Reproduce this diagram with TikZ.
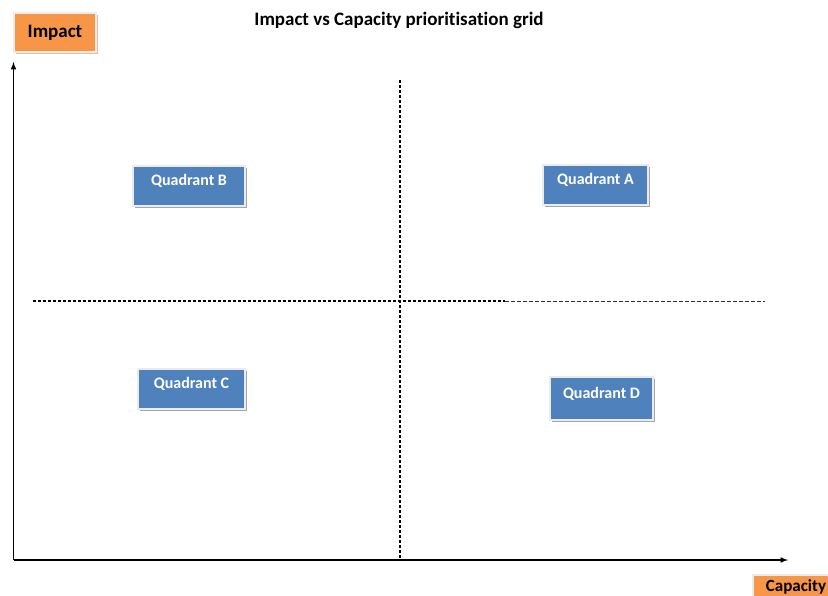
\documentclass[tikz,border=0pt]{standalone}
\usepackage{fontspec}
\setmainfont{Carlito}[Ligatures={NoCommon, NoDiscretionary}]
\usetikzlibrary{shadows}

\definecolor{quadblue}{HTML}{4F81BD}
\definecolor{axisorange}{HTML}{F79646}

\tikzset{
    quadbox/.style={fill=quadblue, draw=black!8, line width=1.5pt, text=white,
        font=\fontsize{16}{18}\selectfont\bfseries, inner sep=0pt,
        text height=12pt, text depth=13pt,
        drop shadow={shadow xshift=2pt, shadow yshift=-2pt, fill=black!35, opacity=1}},
    axisbox/.style={fill=axisorange, draw=black!8, line width=1.5pt,
        font=\fontsize{19}{21}\selectfont\bfseries, inner sep=0pt,
        drop shadow={shadow xshift=2pt, shadow yshift=-2pt, fill=brown!50, opacity=1}},
    divider/.style={line width=1.1pt, dash pattern=on 3pt off 2pt},
    thindivider/.style={line width=0.6pt, dash pattern=on 4pt off 2pt, black!80},
}

\begin{document}
\begin{tikzpicture}[x=1pt, y=-1pt]
    \useasboundingbox (0,0) rectangle (828,595);

    \node at (399, 20)    (title)  {\fontsize{19}{21}\selectfont\bfseries Impact vs Capacity prioritisation grid};
    \node[axisbox, minimum width=82, minimum height=39] at (55, 32.5)   (impact)  {Impact};
    \node[axisbox, font=\fontsize{17}{19}\selectfont\bfseries, minimum width=86, minimum height=30,
        text height=12pt, text depth=10pt] at (796, 590) (capacity)  {Capacity};

    \node[quadbox, minimum width=112, minimum height=40] at (189, 186)   (qB)  {Quadrant B};
    \node[quadbox, minimum width=105, minimum height=40] at (595.5, 185)   (qA)  {Quadrant A};
    \node[quadbox, minimum width=107, minimum height=40] at (191.5, 389)   (qC)  {Quadrant C};
    \node[quadbox, minimum width=103, minimum height=43] at (601.5, 398.5) (qD)  {Quadrant D};

    \coordinate (origin) at (13.5, 560);
    \coordinate (ytop)   at (13.5, 62);
    \coordinate (xend)   at (788, 560);
    \coordinate (vtop)   at (400, 80);
    \coordinate (vbot)   at (400, 560);
    \coordinate (hleft)  at (33, 301);
    \coordinate (hmid)   at (505, 301);
    \coordinate (hright) at (765, 301);

    \draw[line width=1.5pt, -latex] (origin) -- (ytop);
    \draw[line width=1.5pt, -latex] (origin) -- (xend);
    \draw[divider] (vtop) -- (vbot);
    \draw[divider] (hleft) -- (hmid);
    \draw[thindivider] (hmid) -- (hright);
\end{tikzpicture}
\end{document}
